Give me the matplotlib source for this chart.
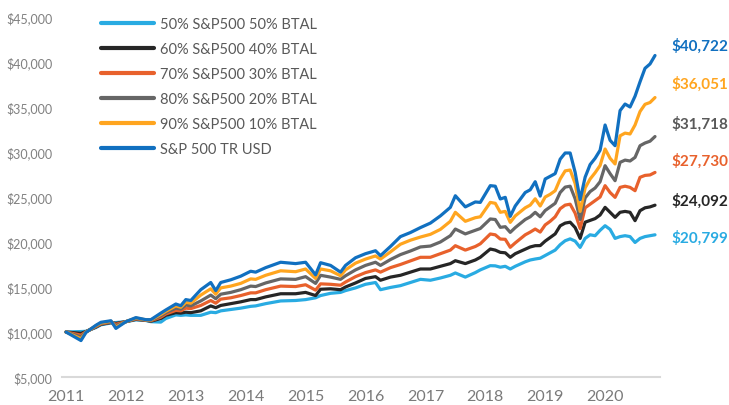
import matplotlib
matplotlib.use('Agg')
import matplotlib.pyplot as plt
import numpy as np

plt.rcParams['font.family'] = ['Lato', 'DejaVu Sans']

# month index from start (Jan 2011 = 0)
months = [0, 3, 4, 6, 7, 9, 10, 12, 14, 16, 17, 19, 20, 22, 23, 24, 25, 27, 29, 30,
          31, 33, 35, 37, 38, 40, 43, 46, 48, 50, 51, 53, 55, 56, 58, 60, 62, 63, 65, 67,
          69, 71, 73, 75, 77, 78, 80, 82, 83, 85, 86, 87, 88, 89, 90, 92, 93, 94, 95, 96,
          97, 98, 99, 100, 101, 102, 103, 104, 105, 106, 107, 108, 109, 110, 111, 112, 113, 114, 115, 116,
          117, 118]
years = list(range(2011, 2021))

mix_50 = [10000, 10050, 10080, 10500, 10800, 11000, 11050, 11150, 11350, 11280, 11150, 11100, 11500, 11900, 11850, 11900, 11850, 11850, 12200, 12150,
          12350, 12500, 12650, 12850, 12900, 13150, 13450, 13500, 13600, 13800, 14050, 14300, 14400, 14600, 14900, 15300, 15500, 14700, 14950, 15150,
          15500, 15850, 15750, 16000, 16300, 16560, 16100, 16600, 16900, 17370, 17350, 17200, 17300, 17000, 17300, 17800, 18000, 18110, 18200, 18500,
          18800, 19100, 19700, 20140, 20350, 20100, 19400, 20400, 20800, 20700, 21300, 21810, 21400, 20400, 20600, 20700, 20600, 19950, 20400, 20600,
          20700, 20799]
mix_60 = [10000, 9850, 10050, 10550, 10850, 11050, 10950, 11150, 11400, 11300, 11200, 11500, 11850, 12150, 12100, 12200, 12150, 12350, 12900, 12700,
          12950, 13150, 13350, 13600, 13600, 13900, 14250, 14250, 14400, 14050, 14750, 14800, 14700, 15000, 15450, 15950, 16150, 15750, 16100, 16300,
          16650, 17000, 17000, 17300, 17600, 17920, 17600, 18000, 18300, 19220, 19100, 18850, 18800, 18300, 18700, 19200, 19450, 19590, 19600, 20100,
          20500, 20900, 21800, 22100, 22200, 21600, 20400, 22200, 22400, 22600, 23000, 23850, 23300, 22740, 23300, 23400, 23300, 22370, 23480, 23800,
          23900, 24092]
mix_70 = [10000, 9650, 10020, 10600, 10900, 11100, 10850, 11150, 11450, 11310, 11250, 11650, 12000, 12400, 12350, 12650, 12600, 12950, 13500, 13200,
          13650, 13800, 14050, 14350, 14350, 14700, 15100, 15050, 15250, 14650, 15350, 15300, 15200, 15550, 16150, 16600, 16900, 16650, 17150, 17500,
          17900, 18300, 18300, 18700, 19100, 19590, 19100, 19500, 19800, 20890, 20800, 20330, 20300, 19410, 19900, 20800, 21100, 21440, 21100, 21900,
          22300, 22800, 23700, 24100, 24200, 23200, 21500, 23800, 24200, 24600, 25000, 26260, 25500, 24960, 26070, 26200, 26070, 25700, 27190, 27400,
          27450, 27730]
mix_80 = [10000, 9450, 10000, 10650, 10950, 11150, 10700, 11150, 11500, 11330, 11300, 11800, 12150, 12650, 12550, 13000, 12900, 13450, 14100, 13700,
          14200, 14400, 14700, 15100, 15050, 15450, 15900, 15850, 16150, 15400, 16300, 16100, 15850, 16250, 16900, 17400, 17750, 17400, 18050, 18600,
          19000, 19450, 19550, 20000, 20700, 21440, 20900, 21300, 21500, 22560, 22500, 21630, 21700, 21070, 21600, 22500, 22800, 23300, 22800, 23500,
          23900, 24300, 25500, 26100, 26200, 24800, 22500, 24900, 25600, 26000, 26700, 28480, 27600, 26810, 28850, 29100, 29000, 29400, 30700, 31000,
          31200, 31718]
mix_90 = [10000, 9250, 9980, 10700, 11000, 11200, 10550, 11150, 11550, 11350, 11330, 11950, 12300, 12900, 12750, 13300, 13200, 14100, 14800, 14200,
          14900, 15100, 15400, 15900, 15850, 16300, 16800, 16700, 17000, 15950, 17000, 16800, 16250, 16900, 17650, 18100, 18450, 18100, 18900, 19750,
          20200, 20550, 20850, 21400, 22300, 23300, 22300, 22700, 22800, 24400, 24300, 23300, 23400, 22180, 22900, 23800, 24100, 24800, 24000, 25000,
          25300, 25700, 27000, 27900, 28000, 26500, 23400, 26000, 27000, 27700, 28500, 30330, 29300, 28670, 31800, 32100, 32000, 33000, 34500, 35300,
          35500, 36051]
sp500 = [10000, 9050, 9950, 10750, 11080, 11250, 10400, 11150, 11600, 11370, 11370, 12100, 12450, 13110, 12920, 13600, 13500, 14700, 15500, 14600,
         15500, 15800, 16200, 16750, 16650, 17150, 17750, 17600, 17750, 16350, 17700, 17400, 16650, 17400, 18250, 18700, 19030, 18480, 19500, 20600,
         21050, 21600, 22100, 22900, 23850, 25140, 23900, 24450, 24400, 26260, 26200, 24780, 24960, 22850, 24000, 25500, 25800, 26700, 25100, 27000,
         27300, 27600, 29200, 29890, 29890, 27740, 24700, 27200, 28600, 29300, 30200, 33000, 31300, 30700, 34600, 35330, 35000, 36200, 37800, 39300,
         39780, 40722]

series = [mix_50, mix_60, mix_70, mix_80, mix_90, sp500]
labels = ['50% S&P500 50% BTAL', '60% S&P500 40% BTAL', '70% S&P500 30% BTAL',
          '80% S&P500 20% BTAL', '90% S&P500 10% BTAL', 'S&P 500 TR USD']
colors = ['#29ABE2', '#262626', '#E8612C', '#666666', '#FFA51F', '#1170C0']
label_colors = ['#29ABE2', '#262626', '#E8612C', '#595959', '#FFA51F', '#1170C0']
label_ypix = [238, 201, 161, 124, 84, 46]   # end-label positions (pixels from top)

W, H = 729, 406
fig = plt.figure(figsize=(W / 100, H / 100), dpi=100)
ax = fig.add_axes([62 / W, 28 / H, 598 / W, 360 / H])

lines = []
for vals, lab, col in zip(series, labels, colors):
    ln, = ax.plot(months, vals, color=col, lw=2.3, label=lab,
                  solid_joinstyle='round', solid_capstyle='round')
    lines.append(ln)

ax.set_xlim(-0.8, 119)
ax.set_ylim(5000, 45000)
ax.set_yticks(np.arange(5000, 45001, 5000))
ax.set_yticklabels([f'${v:,.0f}' for v in np.arange(5000, 45001, 5000)])
ax.set_xticks([12 * i for i in range(len(years))])
ax.set_xticklabels([str(y) for y in years])
ax.tick_params(axis='y', length=0, pad=7, labelsize=9, labelcolor='#808080')
ax.tick_params(axis='x', length=0, pad=9, labelsize=11.5, labelcolor='#7a7a7a')

for s in ['top', 'right', 'left']:
    ax.spines[s].set_visible(False)
ax.spines['bottom'].set_color('#d9d9d9')
ax.spines['bottom'].set_linewidth(1.5)

leg = ax.legend(handles=lines, loc='upper left', bbox_to_anchor=(101 / W, 1 - 18 / H),
                bbox_transform=fig.transFigure, frameon=False, fontsize=10.5,
                handlelength=3.6, handletextpad=0.45, labelspacing=0.76, borderpad=0,
                borderaxespad=0)
for t in leg.get_texts():
    t.set_color('#595959')
for h in leg.get_lines():
    h.set_linewidth(3)

for vals, col, yp in zip(series, label_colors, label_ypix):
    fig.text(671 / W, 1 - yp / H, f'${vals[-1]:,.0f}', color=col, fontsize=11,
             fontweight='bold', va='center', ha='left')

fig.savefig('out.png', dpi=100)
